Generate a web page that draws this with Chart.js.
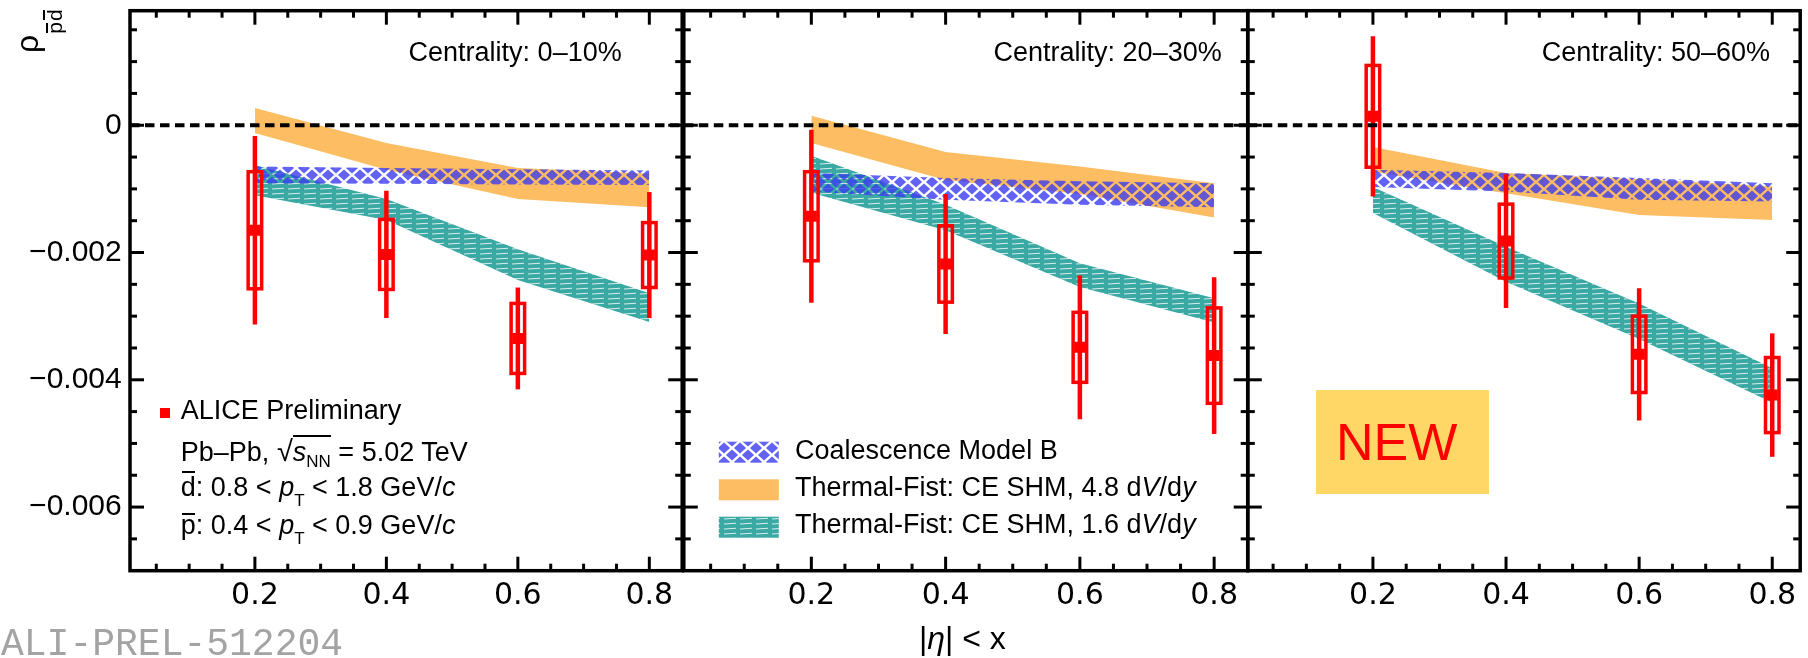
<!DOCTYPE html>
<html>
<head>
<meta charset="utf-8">
<title>rho pbar-dbar vs |eta| &lt; x</title>
<script src="https://cdn.jsdelivr.net/npm/chart.js@4.4.1/dist/chart.umd.min.js"></script>
<style>
  html, body { margin:0; padding:0; background:#fff; }
  #wrap { position:relative; width:1808px; height:658px; overflow:hidden; background:#fff;
          font-family:'Liberation Sans', Arial, Helvetica, sans-serif; color:#000; }
  #wrap canvas { position:absolute; top:0; }
  .t { position:absolute; white-space:nowrap; line-height:1; margin:0; }
  .f27 { font-size:27px; }
  .sb { position:relative; line-height:1; }
  .bar { position:relative; }
  .bar::before { content:''; position:absolute; left:0.03em; right:0.03em; border-top:2.5px solid #000; }
  .bd::before { top:-1px; }
  .bp::before { top:2.7px; }
  .ovl { border-top:2px solid #000; }
  .yb { position:relative; }
  .yb::before { content:''; position:absolute; left:0.05em; right:0.05em; border-top:2px solid #000; }
  .ybd::before { top:0px; }
  .ybp::before { top:3px; }
</style>
</head>
<body>
<div id="wrap">
  <canvas id="c1" width="690" height="658" style="left:0px"></canvas>
  <canvas id="c2" width="580" height="658" style="left:676px"></canvas>
  <canvas id="c3" width="568" height="658" style="left:1240px"></canvas>

  <!-- y-axis title -->
  <div class="t" style="left:10.9px; top:53px; font-size:32px; line-height:32px; transform-origin:0 0; transform:rotate(-90deg);">ρ<span class="sb" style="font-size:21px; top:24px; margin-left:1px;"><span class="yb ybp">p</span><span class="yb ybd" style="margin-left:1px">d</span></span></div>

  <!-- ALICE legend (panel 1) -->
  <div style="position:absolute; left:160px; top:408px; width:10px; height:10px; background:#ff0000;"></div>
  <div class="t f27" style="left:180.8px; top:397.1px;">ALICE Preliminary</div>
  <div class="t f27" style="left:180.8px; top:436.6px;">Pb–Pb, <span style="font-size:29px">√</span><span class="ovl"><i>s</i><span class="sb" style="font-size:17px; top:6px;">NN</span></span> = 5.02 TeV</div>
  <div class="t f27" style="left:180.8px; top:474.1px;"><span class="bar bd">d</span>: 0.8 &lt; <i>p</i><span class="sb" style="font-size:17px; top:10px;">T</span> &lt; 1.8 GeV/<i>c</i></div>
  <div class="t f27" style="left:180.8px; top:512.1px;"><span class="bar bp">p</span>: 0.4 &lt; <i>p</i><span class="sb" style="font-size:17px; top:10px;">T</span> &lt; 0.9 GeV/<i>c</i></div>

  <!-- model legend (panel 2) -->
  <div class="t f27" style="left:795px; top:437.1px;">Coalescence Model B</div>
  <div class="t f27" style="left:795px; top:474.1px;">Thermal-Fist: CE SHM, 4.8 d<i>V</i>/d<i>y</i></div>
  <div class="t f27" style="left:795px; top:511.1px;">Thermal-Fist: CE SHM, 1.6 d<i>V</i>/d<i>y</i></div>

  <!-- x-axis title -->
  <div class="t" style="left:919px; top:621.9px; font-size:32px;">|<i>η</i>| &lt; x</div>

  <!-- preliminary id -->
  <div class="t" style="left:1px; top:625.9px; font-size:38px; font-family:'Liberation Mono','Courier New',monospace; color:#a3a3a3;">ALI-PREL-512204</div>

  <!-- NEW badge -->
  <div style="position:absolute; left:1316px; top:390px; width:173px; height:104px; background:#fed766;"></div>
  <div class="t" style="left:1336px; top:416px; font-size:52px; color:#ff0000;">NEW</div>
</div>

<script>
// ---------------- data ----------------
const etaCuts = [0.2, 0.4, 0.6, 0.8];

const xTickValues = [0.2, 0.4, 0.6, 0.8];
const xTickLabels = ['0.2', '0.4', '0.6', '0.8'];
const xMinorTicks = [0.05, 0.1, 0.15, 0.25, 0.3, 0.35, 0.45, 0.5, 0.55, 0.65, 0.7, 0.75];
const yTickValues = [-0.006, -0.004, -0.002, 0];
const yTickLabels = ['−0.006', '−0.004', '−0.002', '0'];
const yMinorTicks = [-0.0065, -0.0055, -0.005, -0.0045, -0.0035, -0.003, -0.0025,
                     -0.0015, -0.001, -0.0005, 0.0005, 0.001, 0.0015];

const centralityLabels = ['Centrality: 0–10%', 'Centrality: 20–30%', 'Centrality: 50–60%'];

// ALICE Preliminary: value, statistical and systematic uncertainties
const alice_0_10      = [-0.00165, -0.00203, -0.00335, -0.00204];
const aliceStat_0_10  = [ 0.00148,  0.00100,  0.00080,  0.00099];
const aliceSyst_0_10  = [ 0.00092,  0.00055,  0.00055,  0.00051];

const alice_20_30     = [-0.00143, -0.00218, -0.00349, -0.00362];
const aliceStat_20_30 = [ 0.00136,  0.00110,  0.00113,  0.00123];
const aliceSyst_20_30 = [ 0.00070,  0.00060,  0.00055,  0.00075];

const alice_50_60     = [ 0.00014, -0.00182, -0.00360, -0.00424];
const aliceStat_50_60 = [ 0.00126,  0.00105,  0.00104,  0.00097];
const aliceSyst_50_60 = [ 0.00080,  0.00058,  0.00060,  0.00059];

// Coalescence Model B (upper / lower edge)
const coalHi_0_10  = [-0.00065, -0.00067, -0.00069, -0.00071];
const coalLo_0_10  = [-0.00091, -0.00092, -0.00093, -0.00094];
const coalHi_20_30 = [-0.00075, -0.00083, -0.00088, -0.00091];
const coalLo_20_30 = [-0.00104, -0.00117, -0.00125, -0.00129];
const coalHi_50_60 = [-0.00070, -0.00075, -0.00083, -0.00091];
const coalLo_50_60 = [-0.00097, -0.00104, -0.00117, -0.00120];

// Thermal-Fist CE SHM, 4.8 dV/dy
const tf48Hi_0_10  = [ 0.00027, -0.00028, -0.00067, -0.00076];
const tf48Lo_0_10  = [-0.00012, -0.00070, -0.00116, -0.00129];
const tf48Hi_20_30 = [ 0.00015, -0.00042, -0.00065, -0.00091];
const tf48Lo_20_30 = [-0.00028, -0.00086, -0.00108, -0.00145];
const tf48Hi_50_60 = [-0.00034, -0.00075, -0.00085, -0.00096];
const tf48Lo_50_60 = [-0.00073, -0.00107, -0.00141, -0.00149];

// Thermal-Fist CE SHM, 1.6 dV/dy
const tf16Hi_0_10  = [-0.00063, -0.00116, -0.00195, -0.00264];
const tf16Lo_0_10  = [-0.00110, -0.00149, -0.00243, -0.00309];
const tf16Hi_20_30 = [-0.00048, -0.00125, -0.00217, -0.00272];
const tf16Lo_20_30 = [-0.00106, -0.00165, -0.00254, -0.00310];
const tf16Hi_50_60 = [-0.00097, -0.00191, -0.00280, -0.00382];
const tf16Lo_50_60 = [-0.00138, -0.00246, -0.00336, -0.00436];

// ---------------- styling / layout ----------------
Chart.defaults.font.family = "'Liberation Sans', Arial, Helvetica, sans-serif";
Chart.defaults.color = '#000';

const RED = '#ff0000';
const ORANGE = '#fdbd62';
const TEAL = '#3aa8a3';

function makeHatch(ctx) {
  const c = document.createElement('canvas');
  c.width = 16; c.height = 14;
  const g = c.getContext('2d');
  g.fillStyle = 'rgba(60,60,240,0.8)';
  const dia = (cx, cy) => {
    g.beginPath();
    g.moveTo(cx - 6.1, cy); g.lineTo(cx, cy - 5.4); g.lineTo(cx + 6.1, cy); g.lineTo(cx, cy + 5.4);
    g.closePath(); g.fill();
  };
  dia(8, 7); dia(0, 0); dia(16, 0); dia(0, 14); dia(16, 14);
  return ctx.createPattern(c, 'repeat');
}
function makeTeal(ctx) {
  const c = document.createElement('canvas');
  c.width = 16; c.height = 5;
  const g = c.getContext('2d');
  g.fillStyle = TEAL; g.fillRect(0, 0, 16, 5);
  g.strokeStyle = 'rgba(255,255,255,0.8)'; g.lineWidth = 1.1;
  g.beginPath(); g.moveTo(0, 4); g.lineTo(12, 3.3); g.stroke();
  return ctx.createPattern(c, 'repeat');
}

const patternsById = {};

const decoPlugin = {
  id: 'deco',
  afterDatasetsDraw(chart, args, opts) {
    const { ctx, chartArea: a, scales: { x, y } } = chart;
    const ds = chart.data.datasets[0];
    const meta = chart.getDatasetMeta(0);
    ctx.save();
    ctx.strokeStyle = RED; ctx.lineCap = 'butt';
    meta.data.forEach((pt, i) => {
      const v = ds.data[i].y, cx = pt.x;
      const s = ds.statErr[i], e = ds.systErr[i];
      ctx.lineWidth = 4.5;
      ctx.beginPath();
      ctx.moveTo(cx, y.getPixelForValue(v + s));
      ctx.lineTo(cx, y.getPixelForValue(v - s));
      ctx.stroke();
      const t = y.getPixelForValue(v + e), b = y.getPixelForValue(v - e);
      ctx.lineWidth = 3.5;
      ctx.strokeRect(cx - 6.75, t, 13.5, b - t);
    });

    // zero reference line
    const y0 = y.getPixelForValue(0);
    ctx.strokeStyle = '#000'; ctx.lineWidth = 4; ctx.setLineDash([9.5, 5.5]);
    ctx.beginPath(); ctx.moveTo(a.left, y0); ctx.lineTo(a.right, y0); ctx.stroke();
    ctx.setLineDash([]);

    // ticks (ROOT style, inside the frame on all four sides)
    const seg = (x1, y1, x2, y2) => { ctx.beginPath(); ctx.moveTo(x1, y1); ctx.lineTo(x2, y2); ctx.stroke(); };
    const inX = v => v > x.min && v < x.max;
    ctx.lineWidth = 3;
    xTickValues.filter(inX).forEach(v => {
      const p = x.getPixelForValue(v);
      seg(p, a.bottom, p, a.bottom - 14); seg(p, a.top, p, a.top + 14);
    });
    xMinorTicks.filter(inX).forEach(v => {
      const p = x.getPixelForValue(v);
      seg(p, a.bottom, p, a.bottom - 7); seg(p, a.top, p, a.top + 7);
    });
    yTickValues.forEach(v => {
      const p = y.getPixelForValue(v);
      seg(a.left, p, a.left + 14, p); seg(a.right, p, a.right - 14, p);
    });
    yMinorTicks.forEach(v => {
      const p = y.getPixelForValue(v);
      seg(a.left, p, a.left + 7, p); seg(a.right, p, a.right - 7, p);
    });

    // frame
    ctx.lineWidth = 3.5;
    ctx.strokeRect(a.left, a.top, a.right - a.left, a.bottom - a.top);

    // legend swatches for the model bands
    if (opts && opts.swatches) {
      const pats = patternsById[chart.canvas.id];
      const sx = a.left + 35, w = 60, h = 21;
      ctx.fillStyle = pats.hatch; ctx.fillRect(sx, 441.7, w, h);
      ctx.fillStyle = ORANGE;     ctx.fillRect(sx, 479.3, w, h);
      ctx.fillStyle = pats.teal;  ctx.fillRect(sx, 516.7, w, h);
    }
    ctx.restore();
  }
};

const panelLayouts = [
  { id: 'c1', xMin: 0.01,  xMax: 0.85,  pad: { left: 0,   right: 6.7, top: 10.7, bottom: 0 }, showY: true,  swatches: false, labelRight: 621.7 },
  { id: 'c2', xMin: 0.01,  xMax: 0.85,  pad: { left: 7.3, right: 8.3, top: 10.7, bottom: 0 }, showY: false, swatches: true,  labelRight: 1221.7 },
  { id: 'c3', xMin: 0.012, xMax: 0.842, pad: { left: 7.7, right: 6.3, top: 10.7, bottom: 0 }, showY: false, swatches: false, labelRight: 1770 }
];
const panelData = [
  { val: alice_0_10,  stat: aliceStat_0_10,  syst: aliceSyst_0_10,
    coalHi: coalHi_0_10,  coalLo: coalLo_0_10,  tf48Hi: tf48Hi_0_10,  tf48Lo: tf48Lo_0_10,  tf16Hi: tf16Hi_0_10,  tf16Lo: tf16Lo_0_10 },
  { val: alice_20_30, stat: aliceStat_20_30, syst: aliceSyst_20_30,
    coalHi: coalHi_20_30, coalLo: coalLo_20_30, tf48Hi: tf48Hi_20_30, tf48Lo: tf48Lo_20_30, tf16Hi: tf16Hi_20_30, tf16Lo: tf16Lo_20_30 },
  { val: alice_50_60, stat: aliceStat_50_60, syst: aliceSyst_50_60,
    coalHi: coalHi_50_60, coalLo: coalLo_50_60, tf48Hi: tf48Hi_50_60, tf48Lo: tf48Lo_50_60, tf16Hi: tf16Hi_50_60, tf16Lo: tf16Lo_50_60 }
];

const pts = arr => etaCuts.map((x, i) => ({ x, y: arr[i] }));
const edge = (arr, order) => ({
  data: pts(arr), order, pointRadius: 0, borderWidth: 1, borderColor: 'rgba(0,0,0,0)',
  backgroundColor: 'rgba(0,0,0,0)', fill: false, tension: 0
});
const filledEdge = (arr, order, fillStyle) => Object.assign(edge(arr, order), { fill: '-1', backgroundColor: fillStyle });

panelLayouts.forEach((L, k) => {
  const d = panelData[k];
  const canvas = document.getElementById(L.id);
  const c2d = canvas.getContext('2d');
  const hatch = makeHatch(c2d), teal = makeTeal(c2d);
  patternsById[L.id] = { hatch, teal };

  new Chart(canvas, {
    type: 'line',
    data: {
      datasets: [
        { label: 'ALICE Preliminary', data: pts(d.val), showLine: false, order: 0,
          pointStyle: 'rect', pointRadius: 7.8, pointBackgroundColor: RED, pointBorderColor: RED,
          pointBorderWidth: 0, borderColor: RED, backgroundColor: RED,
          statErr: d.stat, systErr: d.syst },
        edge(d.coalHi, 1), filledEdge(d.coalLo, 1, hatch),
        edge(d.tf16Hi, 2), filledEdge(d.tf16Lo, 2, teal),
        edge(d.tf48Hi, 3), filledEdge(d.tf48Lo, 3, ORANGE)
      ]
    },
    options: {
      responsive: false, maintainAspectRatio: false, animation: false, devicePixelRatio: 1,
      events: [],
      layout: { padding: L.pad },
      plugins: { legend: { display: false }, tooltip: { enabled: false }, deco: { swatches: L.swatches } },
      scales: {
        x: {
          type: 'linear', position: 'bottom', min: L.xMin, max: L.xMax,
          afterBuildTicks: s => { s.ticks = xTickValues.map(v => ({ value: v })); },
          afterFit: s => { s.height = 87.3; s.paddingLeft = 0; s.paddingRight = 0; },
          ticks: { font: { size: 30, family: "'DejaVu Sans', 'Liberation Sans', Arial, sans-serif" }, color: '#000',
                   padding: 8, autoSkip: false, maxRotation: 0, minRotation: 0,
                   callback: (v, i) => xTickLabels[i] },
          grid: { display: false, drawTicks: false },
          border: { display: false }
        },
        y: {
          type: 'linear', position: 'left', min: -0.007, max: 0.0018, display: L.showY,
          afterBuildTicks: s => { s.ticks = yTickValues.map(v => ({ value: v })); },
          afterFit: s => { if (L.showY) s.width = 130; s.paddingTop = 0; s.paddingBottom = 0; },
          ticks: { font: { size: 30 }, color: '#000', padding: 8.3, autoSkip: false,
                   callback: (v, i) => yTickLabels[i] },
          grid: { display: false, drawTicks: false },
          border: { display: false }
        }
      }
    },
    plugins: [decoPlugin]
  });

  // centrality label for this panel
  const div = document.createElement('div');
  div.className = 't f27';
  div.style.right = (1808 - L.labelRight) + 'px';
  div.style.top = '38.8px';
  div.textContent = centralityLabels[k];
  document.getElementById('wrap').appendChild(div);
});
</script>
</body>
</html>
